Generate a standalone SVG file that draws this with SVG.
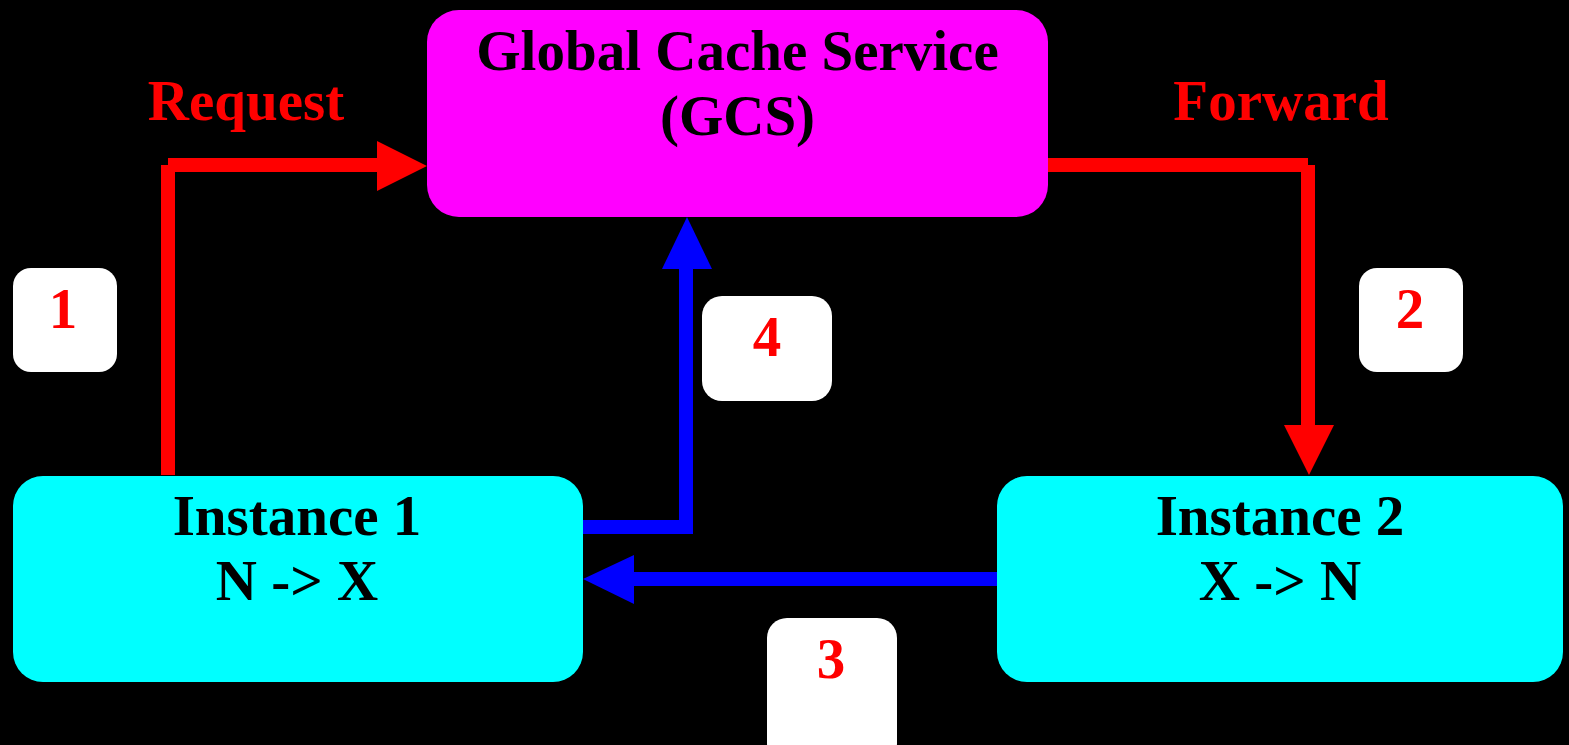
<svg xmlns="http://www.w3.org/2000/svg" width="1569" height="745" viewBox="0 0 1569 745">
  <style>
    text { font-family: "Liberation Serif", "Times New Roman", serif; font-weight: bold; font-size: 57px; text-anchor: middle; }
    .dark { fill: #000000; }
    .red { fill: #FF0000; }
    .gcs { fill: #FF00FF; }
    .inst { fill: #00FFFF; }
    .badge { fill: #FFFFFF; }
    .req { stroke: #FF0000; stroke-width: 14; fill: none; stroke-linecap: butt; }
    .rep { stroke: #0000FF; stroke-width: 14; fill: none; stroke-linecap: butt; }
    .reqhead { fill: #FF0000; }
    .rephead { fill: #0000FF; }
  </style>
  <rect width="1569" height="745" fill="#000000"/>

  <!-- connectors -->
  <g id="connectors">
    <!-- 1: request from instance 1 to GCS -->
    <line class="req" x1="168" y1="475" x2="168" y2="165"/>
    <line class="req" x1="168" y1="165" x2="378" y2="165"/>
    <polygon class="reqhead" points="377,141 377,191 427,166"/>
    <!-- 2: forward from GCS to instance 2 -->
    <line class="req" x1="1048" y1="165" x2="1308" y2="165"/>
    <line class="req" x1="1308" y1="165" x2="1308" y2="426"/>
    <polygon class="reqhead" points="1284,425 1334,425 1309,475"/>
    <!-- 3: block shipped from instance 2 to instance 1 -->
    <line class="rep" x1="997" y1="579" x2="633" y2="579"/>
    <polygon class="rephead" points="634,555 634,604 583,579"/>
    <!-- 4: status reported from instance 1 to GCS -->
    <line class="rep" x1="583" y1="527" x2="693" y2="527"/>
    <line class="rep" x1="686" y1="527" x2="686" y2="268"/>
    <polygon class="rephead" points="662,269 712,269 687,217"/>
  </g>

  <g id="label-request">
    <text class="red" x="246" y="120">Request</text>
  </g>
  <g id="label-forward">
    <text class="red" x="1281" y="120">Forward</text>
  </g>

  <g id="gcs">
    <rect class="gcs" x="427" y="10" width="621" height="207" rx="32" ry="32"/>
    <text class="dark" x="737.5" y="70">Global Cache Service</text>
    <text class="dark" x="737.5" y="135">(GCS)</text>
  </g>

  <g id="instance1">
    <rect class="inst" x="13" y="476" width="570" height="206" rx="30" ry="30"/>
    <text class="dark" x="297" y="535">Instance 1</text>
    <text class="dark" x="297" y="600">N -&gt; X</text>
  </g>

  <g id="instance2">
    <rect class="inst" x="997" y="476" width="566" height="206" rx="30" ry="30"/>
    <text class="dark" x="1280" y="535">Instance 2</text>
    <text class="dark" x="1280" y="600">X -&gt; N</text>
  </g>

  <g id="step1">
    <rect class="badge" x="13" y="268" width="104" height="104" rx="18" ry="18"/>
    <text class="red" x="63" y="328">1</text>
  </g>
  <g id="step2">
    <rect class="badge" x="1359" y="268" width="104" height="104" rx="18" ry="18"/>
    <text class="red" x="1410" y="328">2</text>
  </g>
  <g id="step3">
    <rect class="badge" x="767" y="618" width="130" height="145" rx="20" ry="20"/>
    <text class="red" x="831" y="678">3</text>
  </g>
  <g id="step4">
    <rect class="badge" x="702" y="296" width="130" height="105" rx="20" ry="20"/>
    <text class="red" x="767" y="356">4</text>
  </g>
</svg>
